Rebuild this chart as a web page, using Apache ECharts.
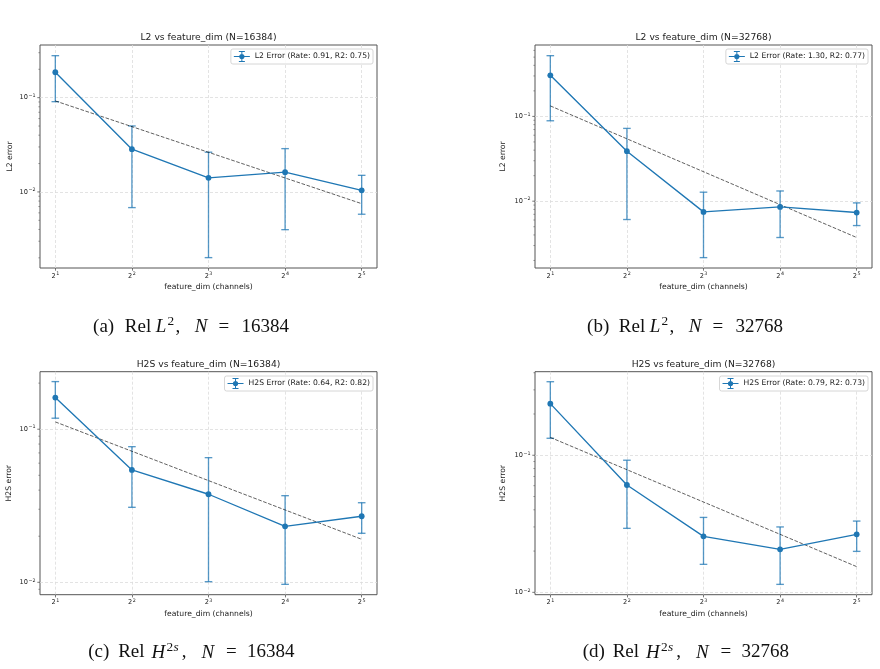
<!DOCTYPE html>
<html>
<head>
<meta charset="utf-8">
<script src="https://cdn.jsdelivr.net/npm/echarts@6/dist/echarts.min.js"></script>
<style>html,body{margin:0;padding:0;background:#fff;}#c{width:880px;height:669px;}</style>
</head>
<body>
<div id="c"></div>
<script>
// ---------------- data ----------------
const featureDims = [2, 4, 8, 16, 32];
const xTickExps = [1, 2, 3, 4, 5];

const panelTitles = [
  'L2 vs feature_dim (N=16384)',
  'L2 vs feature_dim (N=32768)',
  'H2S vs feature_dim (N=16384)',
  'H2S vs feature_dim (N=32768)'
];
const yNames = ['L2 error', 'L2 error', 'H2S error', 'H2S error'];
const xName = 'feature_dim (channels)';
const legendNames = [
  'L2 Error (Rate: 0.91, R2: 0.75)',
  'L2 Error (Rate: 1.30, R2: 0.77)',
  'H2S Error (Rate: 0.64, R2: 0.82)',
  'H2S Error (Rate: 0.79, R2: 0.73)'
];
const captionLetters = ['(a)', '(b)', '(c)', '(d)'];
const captionNormLetters = ['L', 'L', 'H', 'H'];
const captionN = ['16384', '32768', '16384', '32768'];

// panel (a): L2, N=16384
const meanA = [0.186, 0.0284, 0.0141, 0.0162, 0.0104];
const hiA   = [0.279, 0.0501, 0.0264, 0.0288, 0.0150];
const loA   = [0.0907, 0.00682, 0.00201, 0.00398, 0.0058];
const fitA  = [0.0923, 0.00751];
// panel (b): L2, N=32768
const meanB = [0.305, 0.0389, 0.00748, 0.00857, 0.00735];
const hiB   = [0.520, 0.0722, 0.01277, 0.0132, 0.00955];
const loB   = [0.0888, 0.00608, 0.00216, 0.00373, 0.00516];
const fitB  = [0.133, 0.00373];
// panel (c): H2S, N=16384
const meanC = [0.161, 0.0542, 0.0376, 0.0232, 0.0270];
const hiC   = [0.2047, 0.0769, 0.0652, 0.0368, 0.0331];
const loC   = [0.118, 0.0309, 0.0101, 0.0097, 0.0209];
const fitC  = [0.1116, 0.0191];
// panel (d): H2S, N=32768
const meanD = [0.238, 0.0607, 0.0256, 0.0206, 0.0265];
const hiD   = [0.344, 0.092, 0.0352, 0.030, 0.0331];
const loD   = [0.133, 0.0293, 0.0160, 0.01143, 0.0199];
const fitD  = [0.135, 0.0154];

// y-axis ranges (log scale)
const yMins = [0.00156, 0.00163, 0.0083, 0.00961];
const yMaxs = [0.362, 0.695, 0.2375, 0.407];

// ---------------- layout / style ----------------
const SANS = 'DejaVu Sans';
const SERIF = 'Liberation Serif';
const BLUE = '#1f77b4';
const TXT = '#222';
const grids = [
  {left: 40,  top: 45,    width: 337, height: 223},
  {left: 535, top: 45,    width: 337, height: 223},
  {left: 40,  top: 371.7, width: 337, height: 223},
  {left: 535, top: 371.7, width: 337, height: 223}
];
const yNameGaps = [26, 28, 27, 27.5];
const legendRights = [507, 12, 507, 12];
const legendTops = [49, 49, 376, 376];
const captionCenters = [[191, 327], [685, 327], [191.5, 652.5], [686, 652.5]];
const X_MIN = 0.8, X_MAX = 5.2;

const means = [meanA, meanB, meanC, meanD];
const his = [hiA, hiB, hiC, hiD];
const los = [loA, loB, loC, loD];
const fits = [fitA, fitB, fitC, fitD];

const supRich = {
  b: {fontSize: 6.6, fontFamily: SANS, color: TXT, lineHeight: 9},
  s: {fontSize: 4.8, fontFamily: SANS, color: TXT, lineHeight: 6, verticalAlign: 'top', padding: [0, 0, 0, 0.5]}
};

const legendIcon = 'path://M0,5 h16 v1 h-16 z M7.5,0.5 h1 v10 h-1 z M5,0 h6 v1 h-6 z M5,10 h6 v1 h-6 z M10.6,5.5 A2.6,2.6 0 1 1 5.4,5.5 A2.6,2.6 0 1 1 10.6,5.5 z';

const capBase = {fontFamily: SERIF, fontSize: 19, color: '#111', fontWeight: 'normal', lineHeight: 23, align: 'left'};
function tok(extra) { return Object.assign({}, capBase, extra); }
const supBase = {fontSize: 13.3, lineHeight: 16, verticalAlign: 'top'};
// token widths for the two caption kinds (L^2 and H^{2s})
const capRichL = {
  n1: tok({width: 31.7}), n2: tok({width: 31}),
  iX: tok({fontStyle: 'italic', width: 11.8}),
  s2: tok(Object.assign({width: 8}, supBase)),
  ss: tok(Object.assign({width: 0.01, fontStyle: 'italic'}, supBase)),
  cm: tok({width: 19.2}),
  iN: tok({fontStyle: 'italic', width: 21.6}),
  eq: tok({width: 15, align: 'center'}),
  sp: tok({width: 10}),
  num: tok({width: 47.5})
};
const capRichH = {
  n1: tok({width: 30}), n2: tok({width: 33.3}),
  iX: tok({fontStyle: 'italic', width: 15}),
  s2: tok(Object.assign({width: 7}, supBase)),
  ss: tok(Object.assign({width: 8.4, fontStyle: 'italic'}, supBase)),
  cm: tok({width: 19.6}),
  iN: tok({fontStyle: 'italic', width: 22.4}),
  eq: tok({width: 15, align: 'center'}),
  sp: tok({width: 7.6}),
  num: tok({width: 48.4})
};

const option = {
  animation: false,
  backgroundColor: '#fff',
  grid: [], xAxis: [], yAxis: [], series: [], legend: [], title: []
};

for (let p = 0; p < 4; p++) {
  const g = grids[p];
  option.grid.push({
    left: g.left, top: g.top, width: g.width, height: g.height,
    show: true, borderColor: '#555', borderWidth: 1, backgroundColor: 'transparent',
    containLabel: false, outerBoundsMode: 'none'
  });
  option.xAxis.push({
    type: 'value', gridIndex: p, min: X_MIN, max: X_MAX,
    name: xName, nameLocation: 'middle', nameGap: 15,
    nameTextStyle: {fontFamily: SANS, fontSize: 7.65, color: TXT, verticalAlign: 'top'},
    axisLine: {show: false},
    axisTick: {show: true, customValues: xTickExps, length: 2.7, lineStyle: {color: '#555', width: 0.8}},
    axisLabel: {
      customValues: xTickExps, margin: 3.5,
      formatter: v => '{b|2}{s|' + Math.round(v) + '}',
      rich: supRich
    },
    splitLine: {show: true, lineStyle: {color: '#dcdcdc', width: 0.8, type: [3, 2]}}
  });
  option.yAxis.push({
    type: 'log', logBase: 10, gridIndex: p, min: yMins[p], max: yMaxs[p],
    name: yNames[p], nameLocation: 'middle', nameGap: yNameGaps[p],
    nameTextStyle: {fontFamily: SANS, fontSize: 7.65, color: TXT},
    axisLine: {show: false},
    axisTick: {show: false},
    axisLabel: {
      showMinLabel: false, showMaxLabel: false, margin: 4.5,
      formatter: v => {
        const e = Math.round(Math.log10(v));
        return '{b|10}{s|\u2212' + Math.abs(e) + '}';
      },
      rich: supRich
    },
    splitLine: {show: true, showMinLine: false, showMaxLine: false,
      lineStyle: {color: '#dcdcdc', width: 0.8, type: [3, 2]}}
  });

  const xs = featureDims.map(d => Math.log2(d));
  // main series
  option.series.push({
    type: 'line', name: legendNames[p], xAxisIndex: p, yAxisIndex: p,
    data: xs.map((x, i) => [x, means[p][i]]),
    symbol: 'circle', symbolSize: 5.8, showSymbol: true,
    lineStyle: {color: BLUE, width: 1.35},
    itemStyle: {color: BLUE},
    z: 4
  });
  // fit line
  option.series.push({
    type: 'line', name: 'fit' + p, xAxisIndex: p, yAxisIndex: p,
    data: [[xs[0], fits[p][0]], [xs[xs.length - 1], fits[p][1]]],
    symbol: 'none', silent: true,
    lineStyle: {color: 'rgba(0,0,0,0.62)', width: 1, type: [3.7, 1.6]},
    z: 3
  });
  // error bars
  option.series.push({
    type: 'custom', name: 'err' + p, xAxisIndex: p, yAxisIndex: p,
    data: xs.map((x, i) => [x, los[p][i], his[p][i]]),
    encode: {x: 0, y: [1, 2]},
    silent: true, clip: false, z: 2,
    renderItem: (params, api) => {
      const x = api.value(0);
      const pHi = api.coord([x, api.value(2)]);
      const pLo = api.coord([x, api.value(1)]);
      const cw = 3.8;
      const st = {stroke: 'rgba(31,119,180,0.75)', lineWidth: 1.35, fill: null};
      return {type: 'group', children: [
        {type: 'line', shape: {x1: pHi[0], y1: pHi[1], x2: pLo[0], y2: pLo[1]}, style: st},
        {type: 'line', shape: {x1: pHi[0] - cw, y1: pHi[1], x2: pHi[0] + cw, y2: pHi[1]}, style: st},
        {type: 'line', shape: {x1: pLo[0] - cw, y1: pLo[1], x2: pLo[0] + cw, y2: pLo[1]}, style: st}
      ]};
    }
  });
  // y-axis major/minor ticks (log decades)
  const tickData = [];
  for (let d = -4; d <= 1; d++) {
    for (let k = 1; k <= 9; k++) {
      const v = k * Math.pow(10, d);
      if (v >= yMins[p] && v <= yMaxs[p]) tickData.push([X_MIN, v, k === 1 ? 1 : 0]);
    }
  }
  option.series.push({
    type: 'custom', name: 'ticks' + p, xAxisIndex: p, yAxisIndex: p,
    data: tickData, encode: {x: 0, y: 1},
    silent: true, clip: false, z: 5,
    renderItem: (params, api) => {
      const pt = api.coord([api.value(0), api.value(1)]);
      const major = api.value(2) === 1;
      const len = major ? 2.7 : 1.6;
      return {type: 'line',
        shape: {x1: pt[0] - len, y1: pt[1], x2: pt[0], y2: pt[1]},
        style: {stroke: '#555', lineWidth: major ? 0.8 : 0.6}};
    }
  });

  option.legend.push({
    data: [{name: legendNames[p], icon: legendIcon}],
    right: legendRights[p], top: legendTops[p],
    orient: 'vertical', selectedMode: false,
    itemWidth: 16, itemHeight: 11,
    padding: [2, 3, 2, 3],
    backgroundColor: 'rgba(255,255,255,0.85)',
    borderColor: '#cccccc', borderWidth: 0.8, borderRadius: 2,
    textStyle: {fontFamily: SANS, fontSize: 7.65, color: TXT}
  });

  option.title.push({
    text: panelTitles[p],
    left: g.left + g.width / 2, top: g.top - 7.5,
    textAlign: 'center', textVerticalAlign: 'middle', padding: 0,
    textStyle: {fontFamily: SANS, fontSize: 9.2, fontWeight: 'normal', color: TXT}
  });

  const isL = captionNormLetters[p] === 'L';
  const normPart = isL
    ? '{iX|L}{s2|2}{cm|,}'
    : '{iX|H}{s2|2}{ss|s}{cm|,}';
  option.title.push({
    text: '{n1|' + captionLetters[p] + '}{n2|Rel}' + normPart +
          '{iN|N}{eq|=}{sp| }{num|' + captionN[p] + '}',
    left: captionCenters[p][0], top: captionCenters[p][1],
    textAlign: 'center', textVerticalAlign: 'middle', padding: 0,
    textStyle: {fontWeight: 'normal', fontFamily: SERIF, fontSize: 19, color: '#111',
      rich: isL ? capRichL : capRichH}
  });
}

const chart = echarts.init(document.getElementById('c'), null, {renderer: 'canvas'});
chart.setOption(option);
</script>
</body>
</html>
